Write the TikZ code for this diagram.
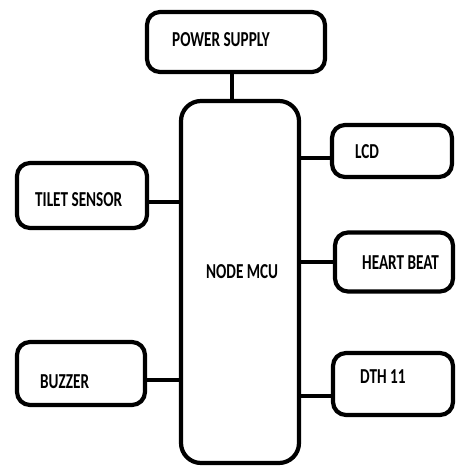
\documentclass[tikz,border=0pt]{standalone}
\usepackage{fontspec}
\setmainfont{Carlito}
\begin{document}
\begin{tikzpicture}[x=1pt,y=-1pt,
  blk/.style={draw,line width=4.2pt,rounded corners=13pt,inner sep=0pt},
  txt/.style={font=\bfseries\fontsize{19}{22}\selectfont,anchor=west,inner sep=0pt},
  wire/.style={line width=4.2pt}]
\useasboundingbox (0,0) rectangle (455,468);
% blocks
\node[blk,minimum width=178pt,minimum height=60pt] (power) at (236,42) {};
\node[blk,minimum width=118pt,minimum height=362pt,rounded corners=20pt] (mcu) at (240,282) {};
\node[blk,minimum width=120pt,minimum height=52pt] (lcd) at (392,151) {};
\node[blk,minimum width=118pt,minimum height=59pt] (heart) at (394,262) {};
\node[blk,minimum width=120pt,minimum height=62pt] (dth) at (393,384) {};
\node[blk,minimum width=130pt,minimum height=65pt] (tilet) at (82,195.5) {};
\node[blk,minimum width=128pt,minimum height=63pt] (buzzer) at (81,373.5) {};
% labels
\node[txt] (powertxt) at (172,40) {\scalebox{0.8}[1.12]{POWER SUPPLY}};
\node[txt] (mcutxt) at (206,272) {\scalebox{0.8}[1.12]{NODE MCU}};
\node[txt] (lcdtxt) at (355,152) {\scalebox{0.8}[1.12]{LCD}};
\node[txt] (hearttxt) at (362,263) {\scalebox{0.8}[1.12]{HEART BEAT}};
\node[txt] (dthtxt) at (360,377) {\scalebox{0.8}[1.12]{DTH 11}};
\node[txt] (tilettxt) at (35,200) {\scalebox{0.8}[1.12]{TILET SENSOR}};
\node[txt] (buzzertxt) at (40,382) {\scalebox{0.8}[1.12]{BUZZER}};
% pins
\coordinate (powerpin) at ([xshift=-4pt]power.south);
\coordinate (lcdpin) at ([yshift=-7pt]lcd.west);
\coordinate (heartpin) at (heart.west);
\coordinate (dthpin) at ([yshift=-12pt]dth.west);
\coordinate (tiletpin) at ([yshift=-6.5pt]tilet.east);
\coordinate (buzzerpin) at ([yshift=-6.5pt]buzzer.east);
% wires
\draw[wire] (powerpin) -- (powerpin |- mcu.north);
\draw[wire] (lcdpin) -- (lcdpin -| mcu.east);
\draw[wire] (heartpin) -- (heartpin -| mcu.east);
\draw[wire] (dthpin) -- (dthpin -| mcu.east);
\draw[wire] (tiletpin) -- (tiletpin -| mcu.west);
\draw[wire] (buzzerpin) -- (buzzerpin -| mcu.west);
\end{tikzpicture}
\end{document}
